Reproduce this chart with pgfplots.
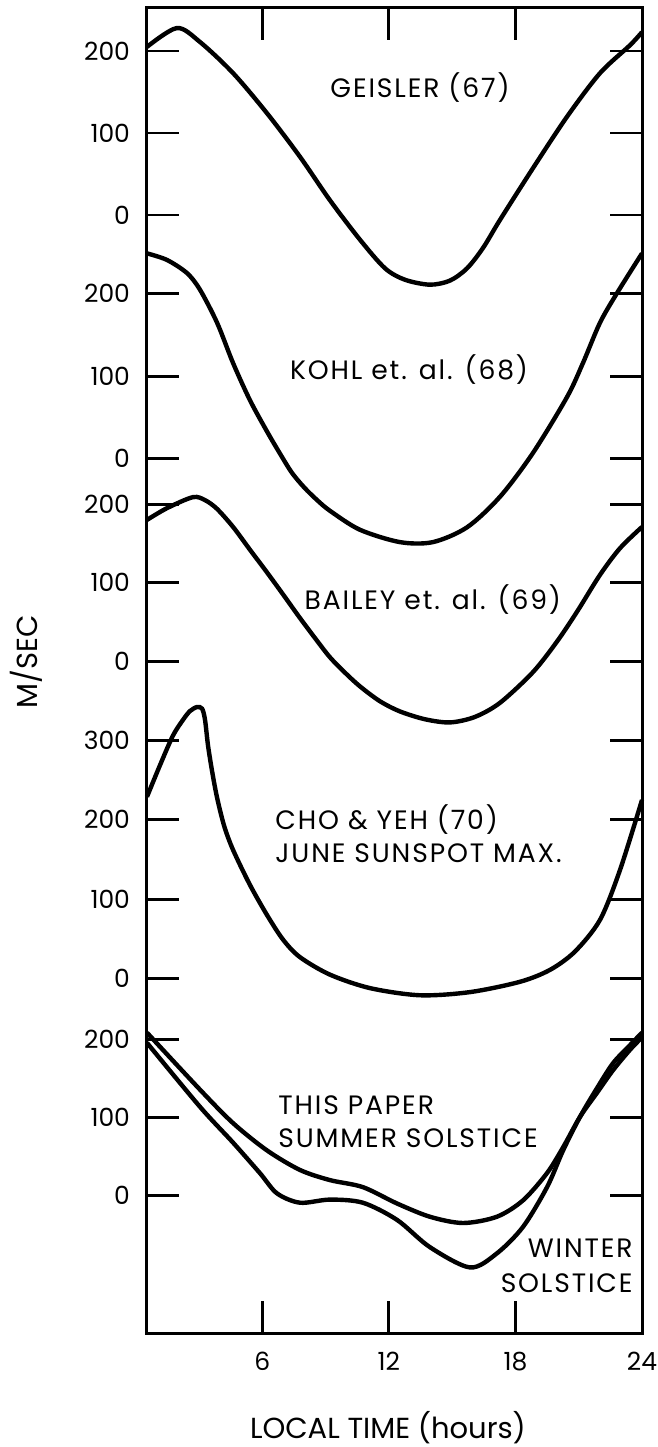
\documentclass[border=0pt]{standalone}
\usepackage{fontspec}
\setmainfont{Poppins}
\newfontfamily\spaced[LetterSpace=7]{Poppins}
\usepackage{pgfplots}
\usepackage{pgfplotstable}
\pgfplotsset{compat=1.18}

% Meridional wind (m/s) against local time (hours); each study is drawn
% in its own band of one tall axis, offset by its own zero line.
\pgfplotstableread{
h v
0.54 205
1.96 228
3.05 211
4.62 173
6.23 124
7.79 71
9.21 18
10.63 -30
11.82 -65
12.77 -79
13.95 -85
14.90 -80
15.71 -65
16.47 -40
17.27 -6
18.83 57
20.45 120
22.01 173
23.43 207
24.00 223
}\geisler

\pgfplotstableread{
h v
0.54 249
1.49 241
2.44 225
3.05 205
3.86 165
4.62 116
5.42 71
6.23 33
6.85 6
7.41 -17
8.00 -35
8.60 -50
9.21 -63
10.63 -86
12.53 -101
14.09 -101
15.71 -83
17.27 -46
18.83 7
20.45 75
21.20 116
22.01 165
22.82 201
24.00 249
}\kohl

\pgfplotstableread{
h v
0.54 180
1.49 195
2.72 209
3.30 205
3.86 194
4.62 171
5.42 142
6.23 113
6.99 85
7.79 55
8.60 26
9.21 5
9.90 -14
10.63 -32
11.58 -51
12.53 -64
13.72 -74
14.90 -78
16.08 -71
17.27 -53
18.83 -14
19.97 25
20.92 63
22.01 110
22.96 144
24.00 171
}\bailey

\pgfplotstableread{
h v
0.54 229
1.16 269
1.77 306
2.25 326
2.58 337
2.91 342
3.15 340
3.29 326
3.43 294
3.62 262
3.86 228
4.20 192
4.62 162
5.42 118
6.23 80
6.99 49
7.79 27
9.21 5
11.11 -12
13.48 -21
15.85 -17
18.22 -4
19.64 11
20.82 34
22.01 74
22.96 137
24.00 225
}\choyeh

\pgfplotstableread{
h v
0.54 209
3.05 136
4.62 93
6.23 58
7.79 33
9.21 20
10.77 11
12.39 -10
13.95 -27
15.52 -35
17.12 -27
18.36 -6
19.50 29
20.26 62
21.06 101
21.87 132
22.63 161
23.43 187
24.00 203
}\summer

\pgfplotstableread{
h v
0.54 196
3.05 114
4.62 68
5.89 29
6.70 3
7.79 -9
9.21 -5
10.77 -9
12.39 -31
13.95 -66
15.85 -92
17.12 -74
18.36 -40
19.50 11
20.26 58
21.06 101
21.87 138
22.63 170
23.43 193
24.00 209
}\winter

\newcommand\lbl{\fontsize{13.3}{15}\selectfont\spaced}

\begin{document}
\begin{tikzpicture}
\useasboundingbox (-73.5pt,-57pt) rectangle (255.5pt,666.5pt);
\begin{axis}[
  at={(0,0)}, anchor=south west,
  scale only axis, width=247.5pt, height=662.5pt,
  xmin=0.54, xmax=24, ymin=-1333, ymax=-8,
  clip=false,
  axis line style={line width=1.5pt},
  tick style={line width=1.4pt, black},
  major tick length=16pt,
  tick align=inside,
  tick pos=both,
  xtick={6,12,18,24}, xticklabels={6,12,18,24},
  ytick={-51,-133,-215,-293.8,-376.3,-458.8,-504.2,-582.7,-661.2,-740.4,-819.8,-899.2,-978.6,-1039.7,-1117.7,-1195.7},
  yticklabels={200,100,0,200,100,0,200,100,0,300,200,100,0,200,100,0},
  tick label style={font=\fontsize{12.5}{14}\selectfont},
  yticklabel style={xshift=-5pt},
  xticklabel style={yshift=-6pt},
  curve/.style={black, line width=2.2pt, smooth, tension=0.5},
]
\addplot[curve] table[x=h, y expr=\thisrow{v}*0.82-215] {\geisler};
\addplot[curve] table[x=h, y expr=\thisrow{v}*0.825-458.8] {\kohl};
\addplot[curve] table[x=h, y expr=\thisrow{v}*0.785-661.2] {\bailey};
\addplot[curve] table[x=h, y expr=\thisrow{v}*0.794-978.6] {\choyeh};
\addplot[curve] table[x=h, y expr=\thisrow{v}*0.78-1195.7] {\summer};
\addplot[curve] table[x=h, y expr=\thisrow{v}*0.78-1195.7] {\winter};

\node[font=\lbl] at (axis cs:13.48,-88) {GEISLER (67)};
\node[font=\lbl] at (axis cs:12.96,-370) {KOHL et. al. (68)};
\node[font=\lbl] at (axis cs:14.09,-600) {BAILEY et. al. (69)};
\node[font=\lbl, anchor=west, inner sep=0pt] at (axis cs:6.61,-820) {CHO \& YEH (70)};
\node[font=\lbl, anchor=west, inner sep=0pt] at (axis cs:6.61,-853) {JUNE SUNSPOT MAX.};
\node[font=\lbl, anchor=west, inner sep=0pt] at (axis cs:6.75,-1105) {THIS PAPER};
\node[font=\lbl, anchor=west, inner sep=0pt] at (axis cs:6.75,-1138) {SUMMER SOLSTICE};
\node[font=\lbl, anchor=east, inner sep=0pt] at (axis cs:23.57,-1248) {WINTER};
\node[font=\lbl, anchor=east, inner sep=0pt] at (axis cs:23.57,-1283) {SOLSTICE};
\node[font=\fontsize{14.5}{16}\selectfont] at (axis cs:11.96,-1428) {LOCAL TIME (hours)};
\node[font=\fontsize{14.5}{16}\selectfont, rotate=90] at (axis cs:-5.19,-662) {M/SEC};
\end{axis}
\end{tikzpicture}
\end{document}
